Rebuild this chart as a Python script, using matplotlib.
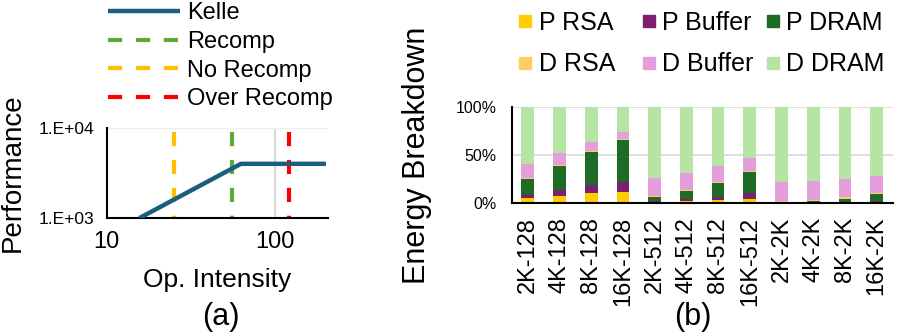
import numpy as np
import matplotlib
matplotlib.use("Agg")
import matplotlib.pyplot as plt
from matplotlib.lines import Line2D

plt.rcParams['font.family'] = ['Liberation Sans', 'DejaVu Sans']

# (a) roofline
kelle_x = [15.6, 62.5, 200]
kelle_y = [1000, 4000, 4000]
no_recomp_x = 25
recomp_x = 55
over_recomp_x = 121

# (b) energy breakdown (%)
configs = ["2K-128", "4K-128", "8K-128", "16K-128",
           "2K-512", "4K-512", "8K-512", "16K-512",
           "2K-2K", "4K-2K", "8K-2K", "16K-2K"]
p_rsa = [4.9, 7.1, 9.9, 11.7, 1.0, 1.8, 2.8, 4.6, 0.3, 0.2, 0.3, 0.7]
p_buf = [3.9, 6.3, 8.8, 10.6, 1.1, 2.1, 3.6, 5.6, 0.2, 0.3, 0.4, 1.4]
p_dram = [16.6, 25.1, 34.3, 43.4, 4.6, 8.5, 14.8, 21.6, 0.4, 2.0, 3.9, 7.4]
d_rsa = [1.1, 1.1, 1.0, 1.1, 1.1, 1.0, 1.1, 1.1, 1.1, 1.0, 1.4, 1.1]
d_buf = [14.5, 12.0, 9.6, 6.7, 18.3, 17.3, 15.9, 13.7, 19.8, 19.5, 18.7, 17.3]
d_dram = [59.0, 48.4, 36.4, 26.5, 73.9, 69.3, 61.8, 53.4, 78.2, 77.0, 75.3, 72.1]

seg_names = ["P RSA", "P Buffer", "P DRAM", "D RSA", "D Buffer", "D DRAM"]
seg_colors = ["#FFCC00", "#7B1F6E", "#1D6B24", "#FFCC66", "#E49EDB", "#B6E4A4"]

fig = plt.figure(figsize=(8.98, 3.35), dpi=100)

############ (a) ############
ax1 = fig.add_axes([0.119, 0.349, 0.246, 0.269])
ax1.set_xscale('log')
ax1.set_yscale('log')
ax1.set_xlim(10, 205)
ax1.set_ylim(1000, 10000)
ax1.axvline(100, color='#D9D9D9', lw=1.5, zorder=0)
ax1.axhline(10000, color='#EEEEEE', lw=1, zorder=0)
lk, = ax1.plot(kelle_x, kelle_y, color='#1A5E80', lw=3.2, label='Kelle', zorder=3,
               solid_capstyle='butt')
dash = (3.4, 3.3)
vy = [9100, 1000]  # dashes drawn from the top down
lr, = ax1.plot([recomp_x] * 2, vy, color='#5DAA3A', lw=3, dashes=dash, label='Recomp', zorder=2)
ln, = ax1.plot([no_recomp_x] * 2, vy, color='#FFC000', lw=3, dashes=dash, label='No Recomp', zorder=2)
lo, = ax1.plot([over_recomp_x] * 2, vy, color='#FF0000', lw=3, dashes=dash, label='Over Recomp', zorder=2)
for s in ['top', 'right']:
    ax1.spines[s].set_visible(False)
for s in ['left', 'bottom']:
    ax1.spines[s].set_linewidth(1.5)
ax1.set_xticks([10, 100])
ax1.set_xticklabels(['10', '100'], fontsize=17)
ax1.set_yticks([1000, 10000])
ax1.set_yticklabels(['1.E+03', '1.E+04'], fontsize=12.5)
ax1.minorticks_off()
ax1.tick_params(axis='x', length=0, pad=9)
ax1.tick_params(axis='y', length=0, pad=9)
ax1.set_xlabel('Op. Intensity', fontsize=19, labelpad=11)
ax1.set_ylabel('Performance', fontsize=20, labelpad=9)
fig.legend(handles=[lk, lr, ln, lo], loc='center left', bbox_to_anchor=(0.120, 0.832),
           frameon=False, fontsize=17, handlelength=3.05, handletextpad=0.3,
           labelspacing=0.28, borderaxespad=0, borderpad=0)
fig.text(0.246, 0.054, '(a)', fontsize=22, ha='center', va='center')

############ (b) ############
ax2 = fig.add_axes([0.570, 0.394, 0.424, 0.287])
x = np.arange(len(configs))
segs = [p_rsa, p_buf, p_dram, d_rsa, d_buf, d_dram]
bottom = np.zeros(len(configs))
for vals, name, c in zip(segs, seg_names, seg_colors):
    ax2.bar(x, vals, 0.4, bottom=bottom, color=c, label=name, zorder=2)
    bottom += np.array(vals)
ax2.set_xlim(-0.5, 11.5)
ax2.set_ylim(0, 100)
ax2.set_yticks([0, 50, 100])
ax2.set_yticklabels(['0%', '50%', '100%'], fontsize=11.5)
ax2.yaxis.grid(True, color='#D9D9D9', lw=1.2, zorder=0)
ax2.set_xticks(x)
ax2.set_xticklabels(configs, rotation=90, fontsize=17)
ax2.tick_params(axis='x', length=0, pad=10)
ax2.tick_params(axis='y', length=0, pad=11)
for s in ['top', 'right']:
    ax2.spines[s].set_visible(False)
for s in ['left', 'bottom']:
    ax2.spines[s].set_linewidth(1.5)
ax2.set_ylabel('Energy Breakdown', fontsize=22, labelpad=17)

# legend: three columns, each its own legend so columns sit at fixed positions
col_x = [0.578, 0.716, 0.854]
for k, cx in enumerate(col_x):
    idx = [k, k + 3]
    handles = [Line2D([], [], marker='s', ls='none', markersize=8.6, color=seg_colors[i])
               for i in idx]
    fig.legend(handles=handles, labels=[seg_names[i] for i in idx], loc='center left',
               bbox_to_anchor=(cx, 0.870), frameon=False, fontsize=18,
               handlelength=0.5, handletextpad=0.28, labelspacing=0.7,
               borderaxespad=0, borderpad=0)
fig.text(0.771, 0.054, '(b)', fontsize=22, ha='center', va='center')

fig.savefig('out.png', dpi=100)
